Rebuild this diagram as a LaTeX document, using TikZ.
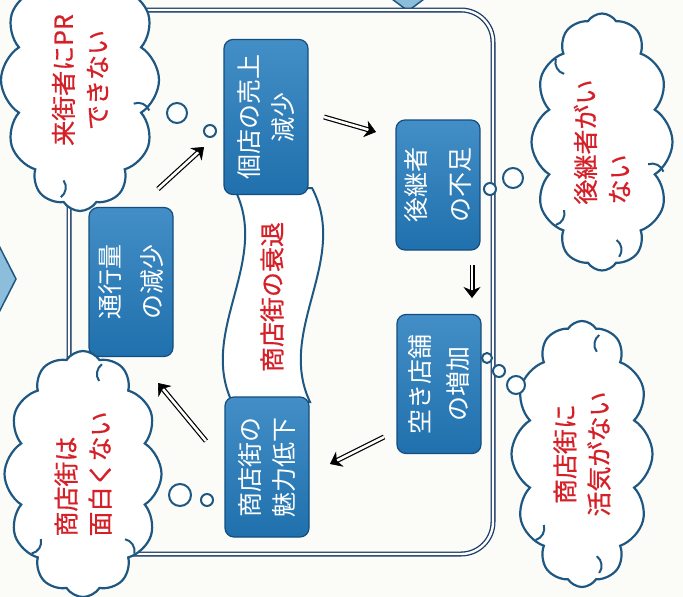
\documentclass[tikz,border=0pt]{standalone}
\usepackage{fontspec}
\newfontfamily\jpfont{Noto Sans CJK JP}
\newfontfamily\jpmed[FakeBold=0.6]{Noto Sans CJK JP}
\usetikzlibrary{shapes,arrows.meta,positioning,calc}

\definecolor{boxblue}{RGB}{34,122,188}
\definecolor{boxedge}{RGB}{20,78,128}
\definecolor{cloudblue}{RGB}{30,88,130}
\definecolor{framenavy}{RGB}{26,58,100}
\definecolor{textred}{RGB}{214,32,40}
\definecolor{chevblue}{RGB}{140,190,220}
\definecolor{paper}{RGB}{251,251,248}

\begin{document}
\begin{tikzpicture}[x=1pt, y=-1pt, >={Stealth[length=11pt, width=17pt, inset=3.5pt]},
  box/.style={draw=boxedge, line width=1.2pt, rounded corners=9pt, rotate=90,
    top color=boxblue!85!white, bottom color=boxblue!92!black, text=white,
    font=\jpfont\fontsize{25}{34}\selectfont,
    align=center, minimum height=84pt, inner sep=0pt},
  thought/.style={cloud, cloud puffs=12, cloud puff arc=115, cloud ignores aspect,
    draw=cloudblue, line width=2.2pt, fill=white, rotate=90, text=textred,
    font=\jpmed\fontsize{25}{34}\selectfont, align=center, inner sep=0pt},
  curl/.style={cloudblue, line width=2pt},
  bubble/.style={circle, draw=cloudblue, line width=2pt, fill=white, inner sep=0pt},
  dbl/.style={draw=black, double=white, double distance=2.6pt, line width=1.2pt, shorten >=6pt},
  head/.style={->, draw=black, fill=black, line width=0.6pt},
  ]
	\fill [paper] (0,0) rectangle (683,597) ;
	\useasboundingbox (0,0) rectangle (683,597) ;
	% cut-off neighbours
	\draw [cloudblue, line width=1.5pt, fill=chevblue] (-10,228) -- (16,279) -- (-10,330) ;
	\draw [cloudblue, line width=1.5pt, fill=chevblue] (380,-10) -- (408,11) -- (436,-10) ;
	% frame
	\draw [framenavy, line width=1.3pt, double=white, double distance=2.4pt,
	  rounded corners=32pt] (69,10) rectangle (493,554) ;
	% banner
	\draw [cloudblue, line width=2pt, fill=white]
	  (234,188) .. controls (272,260) and (198,330) .. (232,402)
	  -- (310,402) .. controls (276,330) and (350,260) .. (312,188) -- cycle ;
	\node [rotate=90, text=textred, font=\jpmed\fontsize{25}{30}\selectfont] (decline) at (272,297) {商店街の衰退} ;
	% boxes
	\node [box, minimum width=155pt] (sales) at (266,117) {個店の売上\\減少} ;
	\node [box, minimum width=130pt] (heir) at (438,185) {後継者\\[10pt]の不足} ;
	\node [box, minimum width=139pt] (vacant) at (439,384) {空き店舗\\[4pt]の増加} ;
	\node [box, minimum width=140pt] (appeal) at (267,467) {商店街の\\魅力低下} ;
	\node [box, minimum width=149pt] (traffic) at (131,282) {通行量\\[8pt]の減少} ;
	% clouds
	\node [thought, minimum width=262pt, minimum height=158pt] (noPR) at (80,80) {来街者にPR\\できない} ;
	\node [thought, minimum width=257pt, minimum height=141pt, align=left] (noheir) at (602,142) {後継者がい\\ない} ;
	\node [thought, minimum width=266pt, minimum height=141pt] (nolife) at (582,454) {商店街に\\活気がない} ;
	\node [thought, minimum width=246pt, minimum height=157pt, align=left] (nofun) at (83,474) {商店街は\\面白くない} ;
	\foreach \c/\i/\j in {noPR/3/4, noPR/6/7, noPR/9/10, noheir/2/3, noheir/4/5,
	    noheir/6/7, noheir/11/12, nolife/2/3, nolife/4/5, nolife/9/10,
	    nofun/2/3, nofun/5/6, nofun/9/10}
	  \draw [curl] ($($(\c.puff \i)!0.5!(\c.puff \j)$)!6pt!(\c.center)$) to [bend right=45]
	    ($($(\c.puff \i)!0.5!(\c.puff \j)$)!23pt!(\c.center)$) ;
	% thought bubbles
	\node [bubble, minimum size=20pt] (pr1) at (177,113) {} ;
	\node [bubble, minimum size=12pt] (pr2) at (210,131) {} ;
	\node [bubble, minimum size=20pt] (heir1) at (513,178) {} ;
	\node [bubble, minimum size=12pt] (heir2) at (490,189) {} ;
	\node [bubble, minimum size=10pt] (life1) at (487,358) {} ;
	\node [bubble, minimum size=12pt] (life2) at (499,371) {} ;
	\node [bubble, minimum size=18pt] (life3) at (516,385) {} ;
	\node [bubble, minimum size=22pt] (fun1) at (180,495) {} ;
	\node [bubble, minimum size=12pt] (fun2) at (207,500) {} ;
	% arrows
	\coordinate (a1) at (158,189) ; \coordinate (b1) at (204,147) ;
	\coordinate (a2) at (324,117) ; \coordinate (b2) at (376,132) ;
	\coordinate (a3) at (472,265) ; \coordinate (b3) at (472,298) ;
	\coordinate (a4) at (384,437) ; \coordinate (b4) at (330,464) ;
	\coordinate (a5) at (206,441) ; \coordinate (b5) at (158,383) ;
	\foreach \s/\e in {a1/b1, a2/b2, a3/b3, a4/b4, a5/b5} {
	  \draw [dbl] (\s) -- (\e) ;
	  \draw [head] ($(\e)!1pt!(\s)$) -- (\e) ;
	}
\end{tikzpicture}
\end{document}
